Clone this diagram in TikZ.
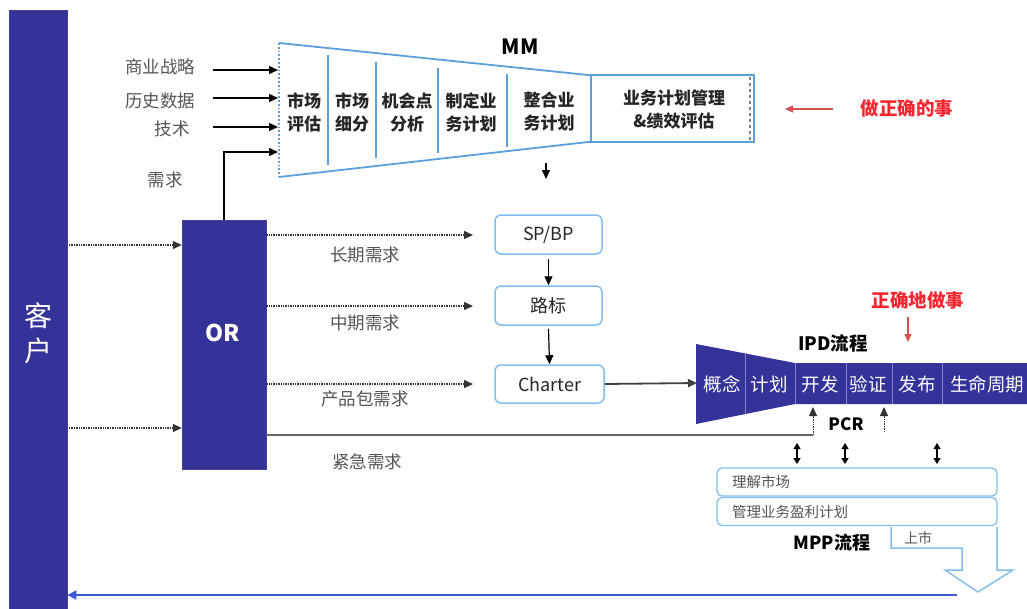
\documentclass[tikz,border=0pt]{standalone}
\usepackage{fontspec}
\setmainfont{Noto Sans CJK SC}
\usetikzlibrary{arrows.meta}
\definecolor{navy}{RGB}{51,51,153}
\definecolor{mmblue}{RGB}{91,160,218}
\definecolor{boxblue}{RGB}{130,190,235}
\definecolor{txtgray}{RGB}{85,85,85}
\definecolor{redtxt}{RGB}{245,40,50}
\definecolor{redarr}{RGB}{215,80,80}
\definecolor{linkblue}{RGB}{60,90,215}
\definecolor{divline}{RGB}{130,130,200}
\begin{document}
\begin{tikzpicture}[x=1pt,y=-1pt,
  lbl/.style={text=txtgray, font=\fontsize{17.5}{19}\selectfont, inner sep=0pt},
  stage/.style={text=black!85, font=\bfseries\fontsize{17}{23}\selectfont, align=center, inner sep=0pt},
  ipdtxt/.style={text=white, font=\fontsize{18.5}{20}\selectfont, inner sep=0pt},
  bold/.style={font=\bfseries\fontsize{#1}{#1}\selectfont, inner sep=0pt},
  arr/.style={-{Triangle[length=9pt,width=8pt]}, line width=1.4pt, draw=black},
  dotarr/.style={arr, densely dotted, draw=black!80},
  dblarr/.style={{Triangle[length=6pt,width=7pt]}-{Triangle[length=6pt,width=7pt]}, line width=1.2pt},
  redarrow/.style={-{Triangle[length=8pt,width=7pt]}, line width=1.4pt, draw=redarr},
  mmline/.style={draw=mmblue, line width=1.8pt},
  navybox/.style={fill=navy, draw=navy!80!gray, inner sep=0pt},
  rbox/.style={draw=boxblue, line width=1.5pt, rounded corners=6pt, minimum width=107pt, minimum height=39pt, font=\fontsize{18}{19}\selectfont, text=black!85},
  mppbox/.style={draw=boxblue, line width=1.3pt, rounded corners=5pt, minimum width=280pt, minimum height=28pt, text width=250pt, align=left, font=\fontsize{14.5}{15}\selectfont, text=txtgray, inner sep=0pt}
]
\useasboundingbox (0,0) rectangle (1027,608);

% customer bar
\node[navybox, minimum width=58pt, minimum height=610pt, anchor=north west] (cust) at (9,10) {};
\node[text=white, font=\fontsize{28}{35}\selectfont, align=center, inner sep=0pt] (custtxt) at (38,333) {客\\户};

% OR box
\node[navybox, minimum width=84pt, minimum height=249pt] (or) at (224,344.5) {};
\node[text=white, bold=23] (ortxt) at (223,333) {OR};

% left arrows into OR
\coordinate (cin1) at (69,245);
\coordinate (cin2) at (69,428);
\draw[dotarr] (cin1) -- (cin1 -| or.west);
\draw[dotarr] (cin2) -- (cin2 -| or.west);

% inputs to MM
\node[lbl] (l1) at (160,67) {商业战略};
\node[lbl] (l2) at (160,101) {历史数据};
\node[lbl] (l3) at (172,129) {技术};
\node[lbl] (l4) at (165,180) {需求};
\coordinate (i1s) at (213,70);  \coordinate (i1e) at (278,70);
\coordinate (i2s) at (213,98);  \coordinate (i2e) at (278,98);
\coordinate (i3s) at (213,127); \coordinate (i3e) at (278,127);
\coordinate (i4e) at (278,152);
\draw[arr] (i1s) -- (i1e);
\draw[arr] (i2s) -- (i2e);
\draw[arr] (i3s) -- (i3e);
\draw[arr] (or.north) |- (i4e);

% MM funnel
\draw[mmline] (279,43) -- (588,75) -- (754,75) -- (754,142) -- (588,142) -- (279,177);
\draw[mmline, dotted] (279,43) -- (279,177);
\draw[mmline] (591,75) -- (591,142);
\draw[dashed, gray, line width=1.2pt] (750,77) -- (750,140);
\draw[mmline] (328,55) -- (328,165);
\draw[mmline] (376,62) -- (376,158);
\draw[mmline] (438,68) -- (438,153);
\draw[mmline] (507,74) -- (507,147);
\node[stage] (s1) at (304,112) {市场\\评估};
\node[stage] (s2) at (352,112) {市场\\细分};
\node[stage] (s3) at (407,112) {机会点\\分析};
\node[stage] (s4) at (471,112) {制定业\\务计划};
\node[stage] (s5) at (549,112) {整合业\\务计划};
\node[stage] (s6) at (674,110) {业务计划管理\\\&绩效评估};
\node[bold=21] (mmtitle) at (520,47) {MM};
\coordinate (mmdown1) at (546,163);
\coordinate (mmdown2) at (546,179);
\draw[arr, line width=1.2pt] (mmdown1) -- (mmdown2);

% red note 1
\node[text=redtxt, bold=18.5] (note1) at (907,108) {做正确的事};
\coordinate (r1s) at (833,109);
\coordinate (r1e) at (785,109);
\draw[redarrow] (r1s) -- (r1e);

% SP/BP, roadmap, charter
\node[rbox] (spbp) at (548.5,234.5) {SP/BP};
\node[rbox] (road) at (548.5,305.5) {路标};
\node[rbox, minimum width=109pt, minimum height=38pt] (charter) at (549.5,384) {Charter};
\draw[arr, line width=1.2pt] (spbp.south) ++(0,4) -- (road.north);
\draw[arr, line width=1.2pt] (road.south) ++(0,3) -- (charter.north);

\coordinate (d1) at (473,235);
\coordinate (d2) at (473,306);
\coordinate (d3) at (473,384);
\draw[dotarr] (d1 -| or.east) -- (d1);
\draw[dotarr] (d2 -| or.east) -- (d2);
\draw[dotarr] (d3 -| or.east) -- (d3);
\node[lbl] (t1) at (365,255) {长期需求};
\node[lbl] (t2) at (365,323) {中期需求};
\node[lbl] (t3) at (365,399) {产品包需求};
\node[lbl] (t4) at (367,462) {紧急需求};

% IPD
\path[fill=navy] (696,344) -- (795,363) -- (1030,363) -- (1030,404) -- (795,404) -- (696,424) -- cycle;
\draw[divline, line width=0.8pt] (745,353) -- (745,414);
\draw[divline, line width=0.8pt] (795,363) -- (795,404);
\draw[divline, line width=0.8pt] (846,363) -- (846,404);
\draw[divline, line width=0.8pt] (892,363) -- (892,404);
\draw[divline, line width=0.8pt] (942,363) -- (942,404);
\node[ipdtxt] (p1) at (722,384) {概念};
\node[ipdtxt] (p2) at (769,384) {计划};
\node[ipdtxt] (p3) at (820,384) {开发};
\node[ipdtxt] (p4) at (868,384) {验证};
\node[ipdtxt] (p5) at (917,384) {发布};
\node[ipdtxt] (p6) at (987,384) {生命周期};
\node[bold=18.5] (ipdtitle) at (833,343) {IPD流程};
\coordinate (ipdL) at (697,383);
\draw[arr, draw=black!75, line width=1.8pt] (charter.east) -- (ipdL);

% red note 2
\node[text=redtxt, bold=18.5] (note2) at (918,300) {正确地做事};
\coordinate (r2s) at (908,317);
\coordinate (r2e) at (908,342);
\draw[redarrow] (r2s) -- (r2e);

% urgent line and PCR
\coordinate (pcr1) at (813,435);
\coordinate (pcr1t) at (813,407);
\coordinate (pcr2) at (884,432);
\coordinate (pcr2t) at (884,407);
\draw[line width=1.8pt, draw=black!60] (or.east |- pcr1) -- (pcr1);
\draw[dotarr, line width=1pt] (pcr1) -- (pcr1t);
\draw[dotarr, line width=1pt] (pcr2) -- (pcr2t);
\node[bold=17] (pcr) at (846,424) {PCR};

% double arrows
\coordinate (da1) at (797,443); \coordinate (db1) at (797,464);
\coordinate (da2) at (845,443); \coordinate (db2) at (845,464);
\coordinate (da3) at (937,443); \coordinate (db3) at (937,464);
\draw[dblarr] (da1) -- (db1);
\draw[dblarr] (da2) -- (db2);
\draw[dblarr] (da3) -- (db3);

% MPP
\node[mppbox] (m1) at (857,482) {理解市场};
\node[mppbox] (m2) at (857,511.5) {管理业务盈利计划};
\node[bold=18] (mpptitle) at (832,543) {MPP流程};
\draw[boxblue, line width=1.5pt, line join=miter] (891,527) -- (891,548) -- (962,548) -- (962,570) -- (945,570) -- (978,592) -- (1013,570) -- (997,570) -- (997,527);
\node[text=txtgray, font=\fontsize{14}{15}\selectfont, inner sep=0pt] (launch) at (918,538) {上市};

% return line
\coordinate (ret) at (957,595);
\draw[draw=linkblue, line width=2.2pt, -{Triangle[length=9pt,width=9pt]}] (ret) -- (ret -| cust.east);
\end{tikzpicture}
\end{document}
